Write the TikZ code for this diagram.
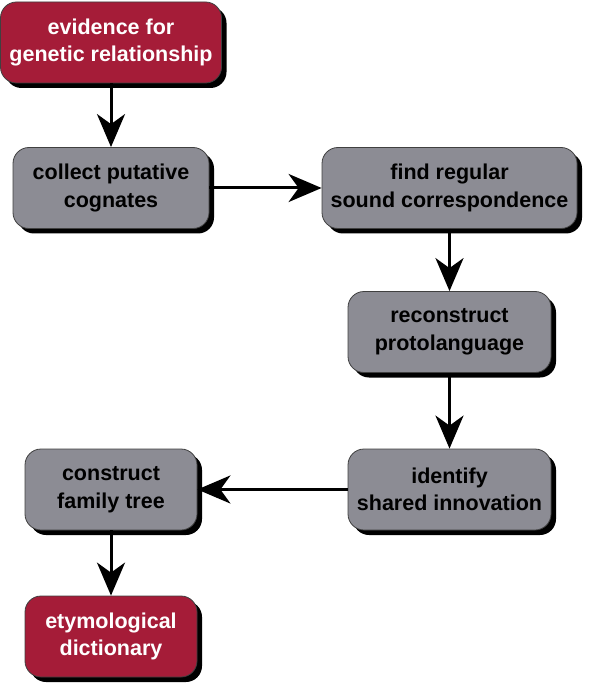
\documentclass[tikz,border=0pt]{standalone}
\usepackage{fontspec}
\setmainfont{Liberation Sans}
\usepackage{tikz}
\usetikzlibrary{arrows.meta,shadows}
\definecolor{wine}{RGB}{165,28,56}
\definecolor{slate}{RGB}{140,140,148}

\tikzset{
  stepbox/.style={draw=black!75,line width=0.8pt,rounded corners=16pt,align=center,
    font=\fontsize{21.5}{27.5}\selectfont\bfseries,minimum height=81pt,inner sep=2pt,
    drop shadow={shadow xshift=5pt,shadow yshift=-5pt,opacity=1,fill=black}},
  endbox/.style={stepbox,fill=wine,text=white},
  midbox/.style={stepbox,fill=slate,text=black},
  flow/.style={line width=3pt,-{Stealth[length=33pt,width=28pt,inset=10pt]}}
}

\begin{document}
\begin{tikzpicture}[x=1pt,y=-1pt]
\useasboundingbox (0,0) rectangle (588,684);

\node[endbox,minimum width=221pt] (evid) at (111,42.5) {evidence for\\genetic relationship};
\node[midbox,minimum width=196pt] (collect) at (111,188) {collect putative\\cognates};
\node[midbox,minimum width=255pt] (find) at (449.5,188) {find regular\\sound correspondence};
\node[midbox,minimum width=203pt] (recon) at (449.5,332) {reconstruct\\protolanguage};
\node[midbox,minimum width=203pt] (ident) at (449.5,489.5) {identify\\shared innovation};
\node[midbox,minimum width=172pt] (tree) at (111,489.5) {construct\\family tree};
\node[endbox,minimum width=172pt] (etym) at (111,636.5) {etymological\\dictionary};

\draw[flow] (evid) -- (collect);
\draw[flow] (collect) -- (find);
\draw[flow] (find) -- (recon);
\draw[flow] (recon) -- (ident);
\draw[flow] (ident) -- (tree);
\draw[flow] (tree) -- (etym);
\end{tikzpicture}
\end{document}
